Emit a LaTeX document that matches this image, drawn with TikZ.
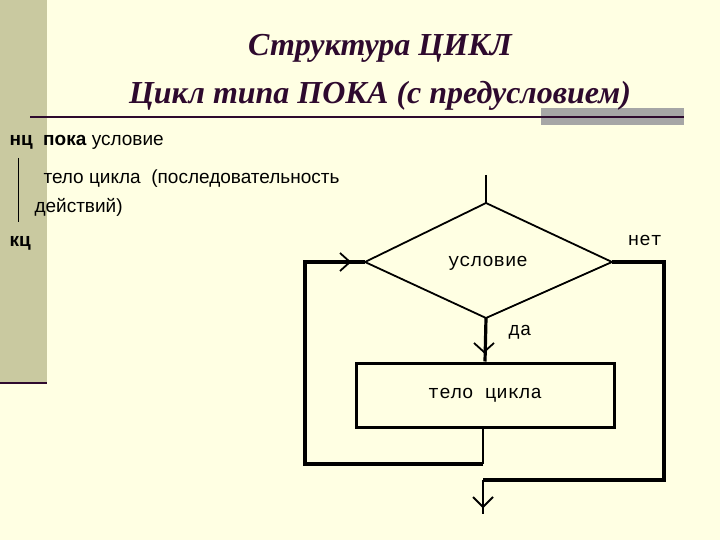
\documentclass[tikz,border=0pt]{standalone}
\usepackage{fontspec}
\setmainfont{Liberation Sans}
\newfontfamily\titlefont{Liberation Serif}
\newfontfamily\pixfont{Liberation Mono}
\definecolor{bg}{HTML}{FFFFE3}
\definecolor{olive}{HTML}{C9C9A0}
\definecolor{ttl}{HTML}{2E0A2E}
\begin{document}
\begin{tikzpicture}[x=1pt,y=-1pt,
  flow/.style={line width=3.2pt},
  thin/.style={line width=1.8pt},
  lbl/.style={font=\pixfont\fontsize{19}{19}\selectfont, inner sep=0pt}]
\useasboundingbox (0,0) rectangle (720,540);
\fill[bg] (0,0) rectangle (720,540);
\fill[olive] (0,0) rectangle (47,382);
\draw[ttl,line width=2pt] (0,383) -- (47,383);
\fill[gray!70] (541,108) rectangle (684,125);
\draw[ttl,line width=2pt] (30,117) -- (684,117);
\node[ttl,font=\titlefont\bfseries\itshape\fontsize{32}{32}\selectfont] (t1) at (380,56) [anchor=base] {Структура ЦИКЛ};
\node[ttl,font=\titlefont\bfseries\itshape\fontsize{32}{32}\selectfont] (t2) at (380,104) [anchor=base] {Цикл типа ПОКА (с предусловием)};
\node[anchor=base west,font=\fontsize{19}{19}\selectfont] (l1) at (6,146) {\textbf{нц} \ \textbf{пока} условие};
\node[anchor=base west,font=\fontsize{19}{19}\selectfont] (l2) at (40,184) {тело цикла \ (последовательность};
\node[anchor=base west,font=\fontsize{19}{19}\selectfont] (l3) at (31,212) {действий)};
\node[anchor=base west,font=\fontsize{19}{19}\selectfont] (l4) at (6,247) {\textbf{кц}};
\draw[line width=0.8pt] (18,158) -- (18,222);
% flowchart
\coordinate (dt) at (486,203);
\coordinate (dl) at (365,262);
\coordinate (dr) at (612,262);
\coordinate (db) at (486,318);
\coordinate (in) at (486,175);
\draw[thin] (dt) -- (dr) -- (db) -- (dl) -- cycle;
\draw[thin] (in) -- (dt);
\node[lbl] (cond) at (488,263) {условие};
\node[draw,line width=3pt,minimum width=258pt,minimum height=64pt,inner sep=0pt,lbl] (body) at (485,395) {тело цикла};
\draw[flow] (db) -- (body.north);
\draw[thin] (474,343) -- (484,352) -- (494,343);
\node[lbl] (yes) at (520,332) {да};
\node[lbl] (no) at (645,240) {нет};
\coordinate (r1) at (664,262);
\coordinate (r2) at (664,480);
\coordinate (r3) at (483,480);
\coordinate (out) at (483,514);
\draw[flow] (dr) -- (r1) -- (r2) -- (r3);
\draw[thin] (r3) -- (out);
\draw[thin] (473,497) -- (483,507) -- (493,497);
\coordinate (b1) at (483,464);
\coordinate (b2) at (305,464);
\coordinate (b3) at (305,262);
\draw[thin] (body.south -| b1) -- (b1);
\draw[flow] (b1) -- (b2) -- (b3) -- (dl);
\draw[thin] (340,253) -- (350,262) -- (340,271);
\end{tikzpicture}
\end{document}
